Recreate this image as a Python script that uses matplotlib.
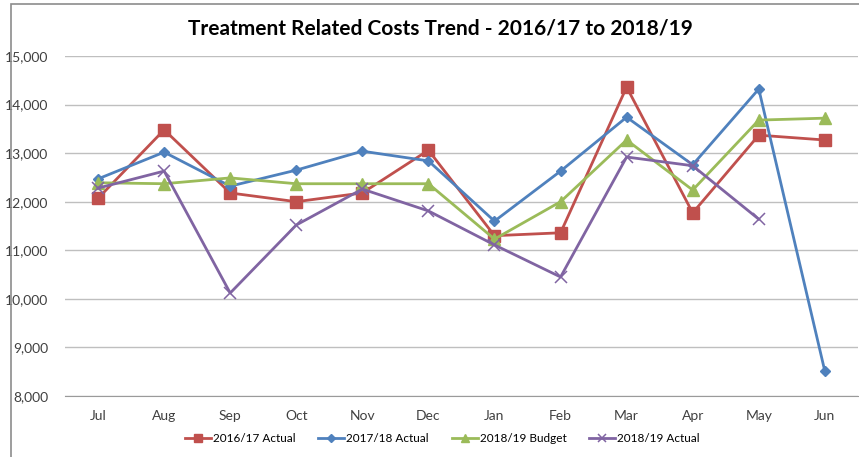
import matplotlib.pyplot as plt
from matplotlib.patches import Rectangle
from matplotlib.ticker import FuncFormatter

months = ["Jul", "Aug", "Sep", "Oct", "Nov", "Dec", "Jan", "Feb", "Mar", "Apr", "May", "Jun"]
actual_1617 = [12070, 13480, 12180, 12000, 12180, 13060, 11300, 11360, 14360, 11770, 13370, 13270]
actual_1718 = [12470, 13020, 12320, 12650, 13040, 12840, 11600, 12630, 13740, 12760, 14320, 8510]
budget_1819 = [12390, 12370, 12490, 12370, 12370, 12370, 11230, 12000, 13270, 12240, 13680, 13720]
actual_1819 = [12280, 12630, 10120, 11520, 12260, 11810, 11110, 10450, 12920, 12740, 11640]

plt.rcParams["font.family"] = ["Lato", "DejaVu Sans"]

fig = plt.figure(figsize=(8.59, 4.57), dpi=100)
ax = fig.add_axes([0.0757, 0.1335, 0.923, 0.744])

# outer chart border
fig.patches.append(Rectangle((11 / 859, -0.02), 1.0, 1 - 4 / 457 + 0.02,
                             transform=fig.transFigure, fill=False,
                             edgecolor="#8c8c8c", linewidth=1.2))

x = list(range(len(months)))
ax.plot(x, actual_1617, color="#C0504D", marker="s", markersize=8, linewidth=2, label="2016/17 Actual")
ax.plot(x, actual_1718, color="#4F81BD", marker="D", markersize=5.5, linewidth=2, label="2017/18 Actual")
ax.plot(x, budget_1819, color="#9BBB59", marker="^", markersize=8, linewidth=2, label="2018/19 Budget")
ax.plot(x[:len(actual_1819)], actual_1819, color="#8064A2", marker="x", markersize=8,
        markeredgewidth=1.1, linewidth=2, label="2018/19 Actual")

ax.set_xlim(-0.5, len(months) - 0.5)
ax.set_ylim(8000, 15000)
ax.set_yticks(range(8000, 15001, 1000))
ax.yaxis.set_major_formatter(FuncFormatter(lambda v, p: f"{int(v):,}"))
ax.set_xticks(x)
ax.set_xticklabels(months)
ax.grid(axis="y", color="#bfbfbf", linewidth=1)
ax.set_axisbelow(True)
for s in ["top", "right", "left"]:
    ax.spines[s].set_visible(False)
ax.spines["bottom"].set_color("#9a9a9a")
ax.tick_params(axis="both", length=0, labelsize=10, colors="#404040", pad=10)
ax.tick_params(axis="y", pad=12)

fig.text(0.513, 0.938, "Treatment Related Costs Trend - 2016/17 to 2018/19",
         ha="center", va="center", fontsize=15, fontweight="bold", color="black")

fig.legend(loc="center", bbox_to_anchor=(0.515, 0.04), ncol=4, frameon=False,
           fontsize=8.5, handlelength=2.2, columnspacing=1.9, handletextpad=0.2,
           markerscale=0.7)

fig.savefig("out.png", dpi=100)
